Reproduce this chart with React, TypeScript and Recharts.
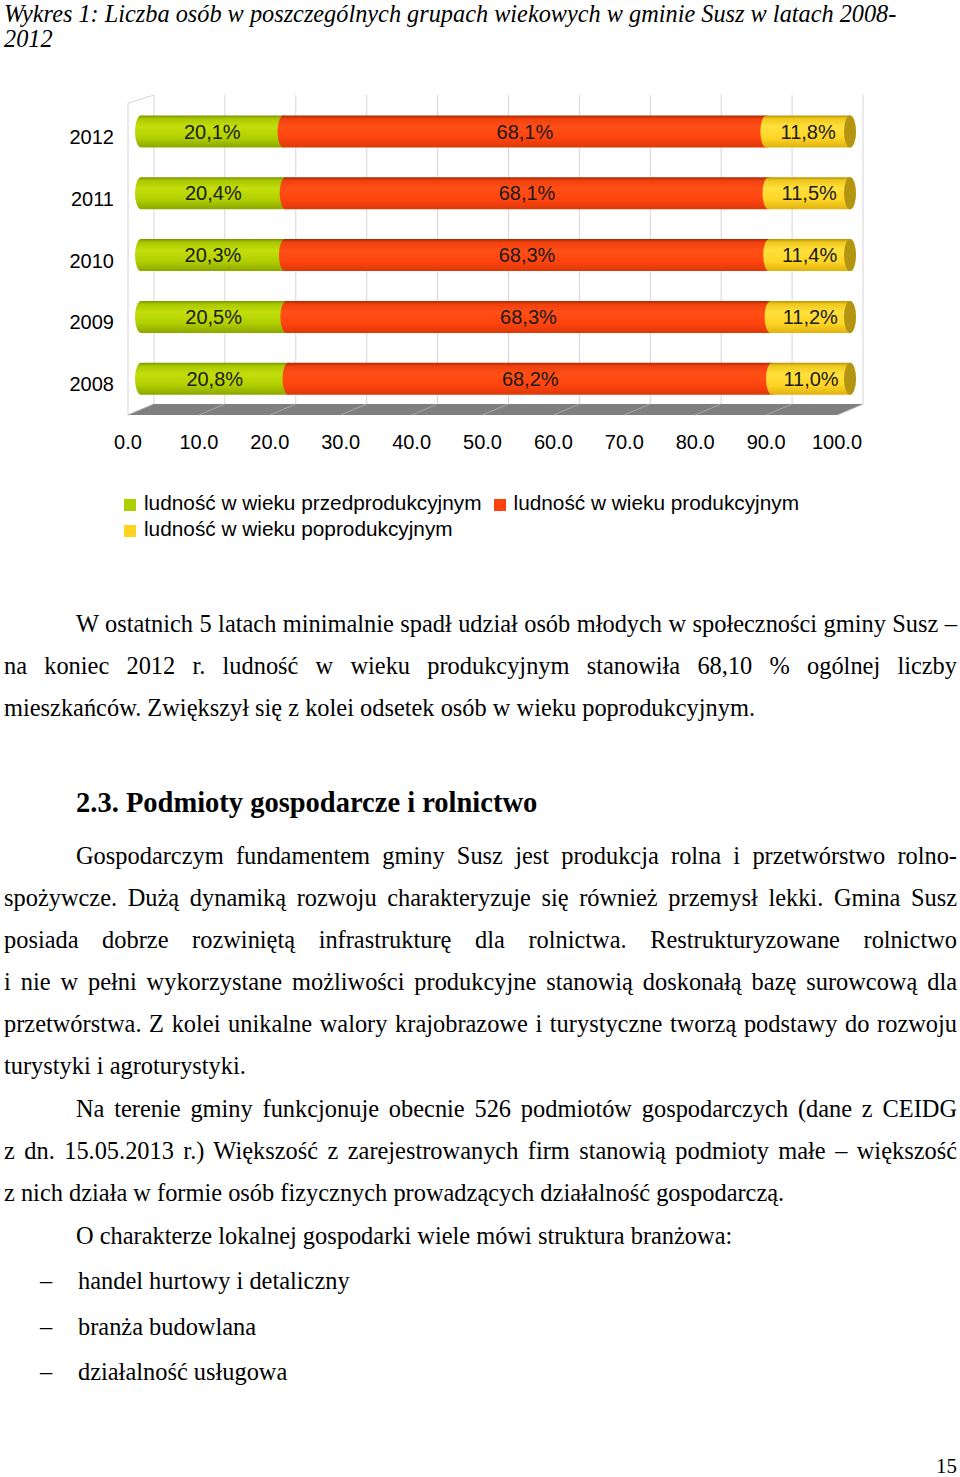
import React from 'react';
import {
  BarChart,
  Bar,
  XAxis,
  YAxis,
  CartesianGrid,
  Legend,
  LabelList,
  ReferenceArea,
} from 'recharts';

// chart values
const years = ['2012', '2011', '2010', '2009', '2008'];
const przed = [20.1, 20.4, 20.3, 20.5, 20.8];
const prod = [68.1, 68.1, 68.3, 68.3, 68.2];
const popr = [11.8, 11.5, 11.4, 11.2, 11.0];
const xTicks = [0, 10, 20, 30, 40, 50, 60, 70, 80, 90, 100];
const seriesNames = [
  'ludność w wieku przedprodukcyjnym',
  'ludność w wieku produkcyjnym',
  'ludność w wieku poprodukcyjnym',
];

const data = years.map((year, i) => ({
  year,
  przed: przed[i],
  prod: prod[i],
  popr: popr[i],
}));

const SANS = '"Liberation Sans", Arial, sans-serif';
const SERIF = '"Liberation Serif", "Times New Roman", serif';

// 3D depth of the chart floor
const DX = 26;
const DY = 11;

const Cylinder = (props: any) => {
  const { x, y, width, height, gradId, cap } = props;
  if (width == null || height == null) return null;
  const x0 = x - DX / 2;
  const x1 = x + width - DX / 2;
  const yy = y + DY / 2;
  const h = height;
  const rx = 6;
  const ry = h / 2;
  const d = `M${x0},${yy} L${x1},${yy} A${rx},${ry} 0 0 1 ${x1},${yy + h} L${x0},${yy + h} A${rx},${ry} 0 0 1 ${x0},${yy} Z`;
  return (
    <g>
      <path d={d} fill={`url(#${gradId})`} />
      {cap && <ellipse cx={x1} cy={yy + ry} rx={rx} ry={ry} fill="#b39512" />}
    </g>
  );
};

const renderLabel = (p: any) => {
  const vb = p.viewBox && p.viewBox.width != null ? p.viewBox : p;
  const { x, y, width, height } = vb;
  const v = Number(p.value).toFixed(1).replace('.', ',') + '%';
  return (
    <text
      x={x + width / 2 - DX / 2}
      y={y + height / 2 + DY / 2}
      dy="0.355em"
      textAnchor="middle"
      fontFamily={SANS}
      fontSize={20}
      fill="#1a1a1a"
    >
      {v}
    </text>
  );
};

const XTick = (p: any) => (
  <text
    x={p.x - DX}
    y={p.y + 23}
    dy="0.71em"
    textAnchor="middle"
    fontFamily={SANS}
    fontSize={20}
    fill="#000"
  >
    {Number(p.payload.value).toFixed(1)}
  </text>
);

const YTick = (p: any) => (
  <text
    x={p.x - 32}
    y={p.y + 11}
    dy="0.355em"
    textAnchor="end"
    fontFamily={SANS}
    fontSize={20}
    fill="#000"
  >
    {p.payload.value}
  </text>
);

const Floor = (props: any) => {
  const { x, y, width, height } = props;
  if (width == null) return null;
  const bottom = y + height;
  return (
    <g>
      <polyline
        points={`${x},${y} ${x - DX},${y + DY * 0.75} ${x - DX},${bottom + DY}`}
        fill="none"
        stroke="#d4d4d4"
        strokeWidth={1}
      />
      <polygon
        points={`${x},${bottom} ${x + width},${bottom} ${x + width - DX},${bottom + DY} ${x - DX},${bottom + DY}`}
        fill="#7f7f7f"
      />
      {xTicks.map((t) => {
        const gx = x + (width * t) / 100;
        return (
          <line key={t} x1={gx} y1={bottom} x2={gx - DX} y2={bottom + DY} stroke="#a8a8a8" strokeWidth={1} />
        );
      })}
    </g>
  );
};

const renderLegend = (props: any) => {
  const items = [...(props.payload || [])].sort(
    (a: any, b: any) => seriesNames.indexOf(a.value) - seriesNames.indexOf(b.value)
  );
  return (
    <div style={{ fontFamily: SANS, fontSize: 20.8, color: '#000', lineHeight: '26px', textAlign: 'left' }}>
      {items.map((e: any) => (
        <span key={e.value} style={{ display: 'inline-block', marginRight: 12, whiteSpace: 'nowrap' }}>
          <span
            style={{
              display: 'inline-block',
              width: 12,
              height: 12,
              background: e.color,
              marginRight: 8,
              verticalAlign: '-1px',
            }}
          />
          {e.value}
        </span>
      ))}
    </div>
  );
};

type Line = { text: string; left: number; cy: number; justify?: boolean };

const bodyLines: Line[] = [
  { text: 'W ostatnich 5 latach minimalnie spadł udział osób młodych w społeczności gminy Susz –', left: 76, cy: 624, justify: true },
  { text: 'na koniec 2012 r. ludność w wieku produkcyjnym stanowiła 68,10 % ogólnej liczby', left: 4, cy: 666, justify: true },
  { text: 'mieszkańców. Zwiększył się z kolei odsetek osób w wieku poprodukcyjnym.', left: 4, cy: 708 },
  { text: 'Gospodarczym fundamentem gminy Susz jest produkcja rolna i przetwórstwo rolno-', left: 76, cy: 856, justify: true },
  { text: 'spożywcze. Dużą dynamiką rozwoju charakteryzuje się również przemysł lekki. Gmina Susz', left: 4, cy: 898, justify: true },
  { text: 'posiada dobrze rozwiniętą infrastrukturę dla rolnictwa. Restrukturyzowane rolnictwo', left: 4, cy: 940, justify: true },
  { text: 'i nie w pełni wykorzystane możliwości produkcyjne stanowią doskonałą bazę surowcową dla', left: 4, cy: 982, justify: true },
  { text: 'przetwórstwa. Z kolei unikalne walory krajobrazowe i turystyczne tworzą podstawy do rozwoju', left: 4, cy: 1024, justify: true },
  { text: 'turystyki i agroturystyki.', left: 4, cy: 1066 },
  { text: 'Na terenie gminy funkcjonuje obecnie 526 podmiotów gospodarczych (dane z CEIDG', left: 76, cy: 1109, justify: true },
  { text: 'z dn. 15.05.2013 r.) Większość z zarejestrowanych firm stanowią podmioty małe – większość', left: 4, cy: 1151, justify: true },
  { text: 'z nich działa w formie osób fizycznych prowadzących działalność gospodarczą.', left: 4, cy: 1193 },
  { text: 'O charakterze lokalnej gospodarki wiele mówi struktura branżowa:', left: 76, cy: 1236 },
];

const listItems = ['handel hurtowy i detaliczny', 'branża budowlana', 'działalność usługowa'];
const listCy = [1281, 1327, 1372];

const TextLine = ({ text, left, cy, justify, style, h = 30 }: any) => (
  <div
    style={{
      position: 'absolute',
      left,
      width: 957 - left,
      top: cy - h / 2,
      height: h,
      lineHeight: `${h}px`,
      fontFamily: SERIF,
      fontSize: 24.4,
      color: '#000',
      whiteSpace: justify ? 'normal' : 'nowrap',
      textAlign: justify ? 'justify' : 'left',
      textAlignLast: justify ? 'justify' : 'auto',
      ...style,
    }}
  >
    {text}
  </div>
);

export default function App() {
  return (
    <div
      style={{
        position: 'absolute',
        left: 0,
        top: 0,
        width: 960,
        height: 1477,
        background: '#fff',
        overflow: 'hidden',
      }}
    >
      <TextLine
        text="Wykres 1: Liczba osób w poszczególnych grupach wiekowych w gminie Susz w latach 2008-"
        left={4}
        cy={14}
        h={28}
        style={{ fontStyle: 'italic', width: 952, fontSize: 24.3 }}
      />
      <TextLine text="2012" left={4} cy={39} h={24} style={{ fontStyle: 'italic', fontSize: 24.3 }} />

      <div style={{ position: 'absolute', left: 0, top: 0 }}>
        <BarChart
          width={960}
          height={560}
          data={data}
          layout="vertical"
          barSize={32}
          margin={{ top: 95, right: 97, left: 94, bottom: 126 }}
        >
          <defs>
            <linearGradient id="gGreen" x1="0" y1="0" x2="0" y2="1">
              <stop offset="0" stopColor="#7c9300" />
              <stop offset="0.1" stopColor="#a9c800" />
              <stop offset="0.35" stopColor="#c3de0c" />
              <stop offset="0.7" stopColor="#b1cf00" />
              <stop offset="1" stopColor="#8ba700" />
            </linearGradient>
            <linearGradient id="gRed" x1="0" y1="0" x2="0" y2="1">
              <stop offset="0" stopColor="#a82800" />
              <stop offset="0.1" stopColor="#ef400e" />
              <stop offset="0.35" stopColor="#ff4f17" />
              <stop offset="0.7" stopColor="#ff440f" />
              <stop offset="1" stopColor="#dd3808" />
            </linearGradient>
            <linearGradient id="gYellow" x1="0" y1="0" x2="0" y2="1">
              <stop offset="0" stopColor="#b89400" />
              <stop offset="0.1" stopColor="#f0c81e" />
              <stop offset="0.35" stopColor="#ffe03c" />
              <stop offset="0.7" stopColor="#ffd526" />
              <stop offset="1" stopColor="#e0b30f" />
            </linearGradient>
          </defs>
          <CartesianGrid horizontal={false} stroke="#d6d6d6" />
          <ReferenceArea x1={0} x2={100} shape={<Floor />} />
          <XAxis
            type="number"
            domain={[0, 100]}
            ticks={xTicks}
            axisLine={false}
            tickLine={false}
            tick={<XTick />}
            interval={0}
          />
          <YAxis
            type="category"
            dataKey="year"
            width={60}
            axisLine={false}
            tickLine={false}
            tick={<YTick />}
          />
          <Legend
            layout="horizontal"
            verticalAlign="middle"
            align="center"
            wrapperStyle={{ top: 490, left: 124, width: 700 }}
            content={renderLegend}
          />
          <Bar
            dataKey="przed"
            name={seriesNames[0]}
            stackId="a"
            fill="#aecf00"
            isAnimationActive={false}
            shape={(p: any) => <Cylinder {...p} gradId="gGreen" />}
          >
            <LabelList dataKey="przed" content={renderLabel} />
          </Bar>
          <Bar
            dataKey="prod"
            name={seriesNames[1]}
            stackId="a"
            fill="#ff420e"
            isAnimationActive={false}
            shape={(p: any) => <Cylinder {...p} gradId="gRed" />}
          >
            <LabelList dataKey="prod" content={renderLabel} />
          </Bar>
          <Bar
            dataKey="popr"
            name={seriesNames[2]}
            stackId="a"
            fill="#ffd320"
            isAnimationActive={false}
            shape={(p: any) => <Cylinder {...p} gradId="gYellow" cap />}
          >
            <LabelList dataKey="popr" content={renderLabel} />
          </Bar>
        </BarChart>
      </div>

      {bodyLines.map((l) => (
        <TextLine key={l.text} {...l} />
      ))}

      <TextLine
        text="2.3. Podmioty gospodarcze i rolnictwo"
        left={76}
        cy={803}
        style={{ fontWeight: 'bold', fontSize: 28.5 }}
      />

      {listItems.map((t, i) => (
        <React.Fragment key={t}>
          <TextLine text="–" left={40} cy={listCy[i]} style={{ width: 30 }} />
          <TextLine text={t} left={78} cy={listCy[i]} />
        </React.Fragment>
      ))}

      <TextLine text="15" left={936} cy={1466} h={20} style={{ width: 24, fontSize: 21 }} />
    </div>
  );
}
